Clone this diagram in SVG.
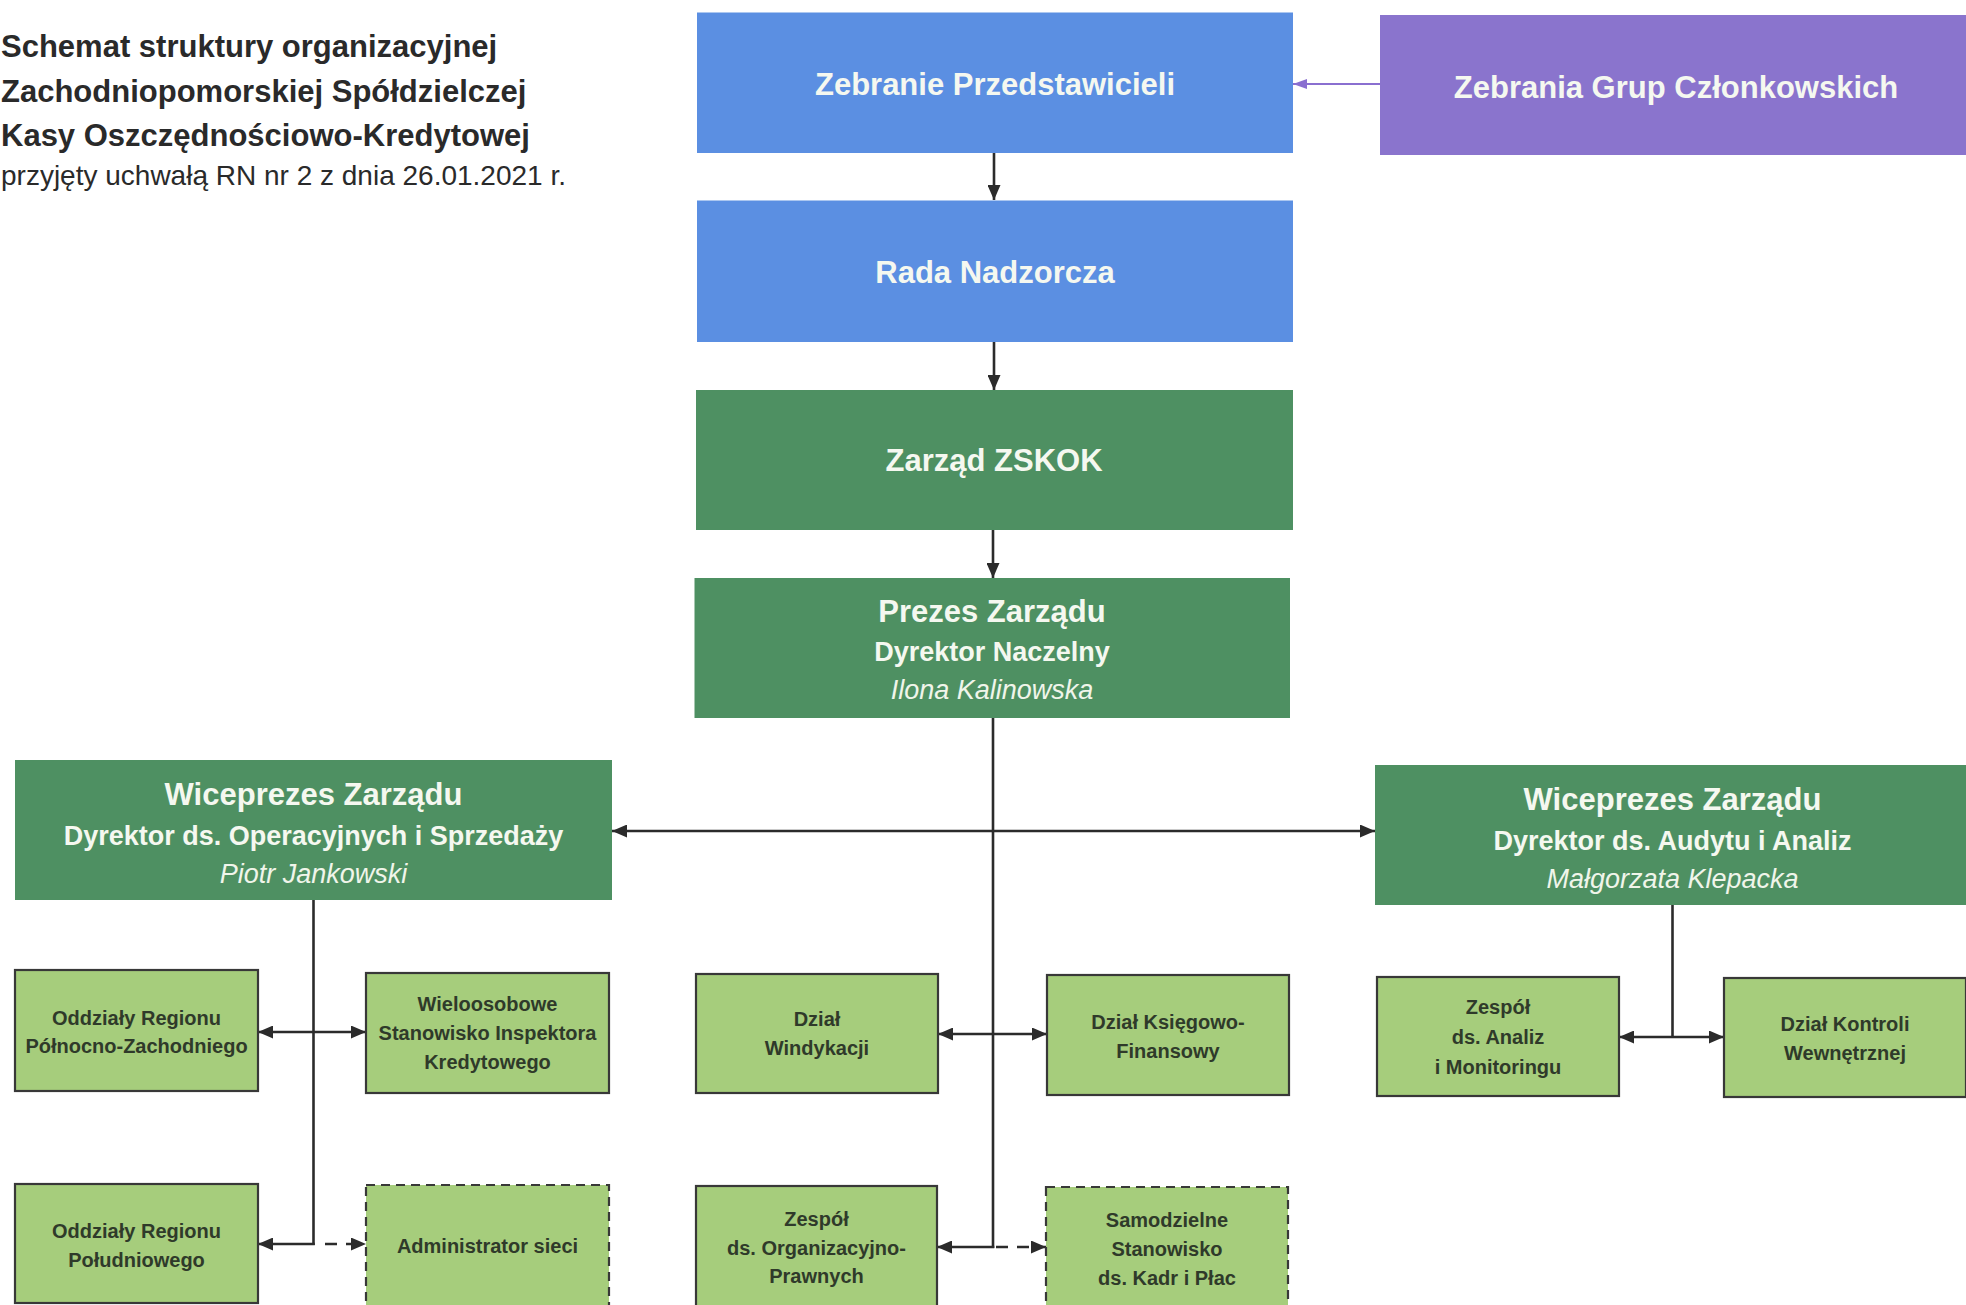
<svg xmlns="http://www.w3.org/2000/svg" width="1966" height="1305" viewBox="0 0 1966 1305">
<style>
text{font-family:"Liberation Sans",Arial,sans-serif;text-anchor:middle}
.title{font-weight:bold;font-size:31px;fill:#2a2a2a;text-anchor:start}
.sub{font-size:28px;fill:#2a2a2a;text-anchor:start}
.blue{fill:#5b8fe2}
.purple{fill:#8a74cd}
.dg{fill:#4e9062}
.lg{fill:#a6cd7c;stroke:#383838;stroke-width:2.2}
.dash{stroke-dasharray:9 6}
.h1{font-weight:bold;font-size:31px;fill:#f5f8f0}
.h2{font-weight:bold;font-size:27px;fill:#f5f8f0}
.h3{font-style:italic;font-size:27px;fill:#f0f5ea}
.s{font-weight:bold;font-size:20px;fill:#2f3a2a}
.c{fill:none;stroke:#2b2b2b;stroke-width:2.6}
.cd{stroke-dasharray:12 9}
</style>
<defs>
<marker id="ah" markerUnits="userSpaceOnUse" markerWidth="15" markerHeight="13" refX="15" refY="6.5" orient="auto-start-reverse"><path d="M0,0 L15,6.5 L0,13 z" fill="#2b2b2b"/></marker>
<marker id="ahp" markerUnits="userSpaceOnUse" markerWidth="14" markerHeight="12" refX="14" refY="6" orient="auto-start-reverse"><path d="M0,1 L14,6 L0,11 z" fill="#8a6fd0"/></marker>
</defs>
<rect width="1966" height="1305" fill="#ffffff"/>

<g id="title">
<text class="title" x="1" y="57">Schemat struktury organizacyjnej</text>
<text class="title" x="1" y="102">Zachodniopomorskiej Spółdzielczej</text>
<text class="title" x="1" y="146">Kasy Oszczędnościowo-Kredytowej</text>
<text class="sub" x="1" y="185">przyjęty uchwałą RN nr 2 z dnia 26.01.2021 r.</text>
</g>

<g id="connectors">
<line class="c" x1="1380" y1="84" x2="1293" y2="84" style="stroke:#8a6fd0;stroke-width:2.2" marker-end="url(#ahp)"/>
<line class="c" x1="994" y1="153" x2="994" y2="200" marker-end="url(#ah)"/>
<line class="c" x1="994" y1="342" x2="994" y2="390" marker-end="url(#ah)"/>
<line class="c" x1="993" y1="530" x2="993" y2="578" marker-end="url(#ah)"/>
<line class="c" x1="993" y1="718" x2="993" y2="1248"/>
<line class="c" x1="612" y1="831" x2="1375" y2="831" marker-start="url(#ah)" marker-end="url(#ah)"/>
<line class="c" x1="313.5" y1="900" x2="313.5" y2="1245"/>
<line class="c" x1="258" y1="1032" x2="366" y2="1032" marker-start="url(#ah)" marker-end="url(#ah)"/>
<line class="c" x1="314.8" y1="1244" x2="258" y2="1244" marker-end="url(#ah)"/>
<line class="c cd" x1="325" y1="1244" x2="366" y2="1244" marker-end="url(#ah)"/>
<line class="c" x1="938" y1="1034" x2="1047" y2="1034" marker-start="url(#ah)" marker-end="url(#ah)"/>
<line class="c" x1="994.3" y1="1247" x2="937" y2="1247" marker-end="url(#ah)"/>
<line class="c cd" x1="996" y1="1247" x2="1046" y2="1247" marker-end="url(#ah)"/>
<line class="c" x1="1672.5" y1="905" x2="1672.5" y2="1037"/>
<line class="c" x1="1619" y1="1037" x2="1724" y2="1037" marker-start="url(#ah)" marker-end="url(#ah)"/>
</g>

<g id="zebranie-przedstawicieli">
<rect class="blue" x="697" y="12.5" width="596" height="140.5"/>
<text class="h1" x="995" y="95">Zebranie Przedstawicieli</text>
</g>
<g id="zebrania-grup">
<rect class="purple" x="1380" y="15" width="586" height="140"/>
<text class="h1" x="1676" y="97.5">Zebrania Grup Członkowskich</text>
</g>
<g id="rada-nadzorcza">
<rect class="blue" x="697" y="200.5" width="596" height="141.5"/>
<text class="h1" x="995" y="283">Rada Nadzorcza</text>
</g>
<g id="zarzad-zskok">
<rect class="dg" x="696" y="390" width="597" height="140"/>
<text class="h1" x="994" y="471">Zarząd ZSKOK</text>
</g>
<g id="prezes">
<rect class="dg" x="694.5" y="578" width="595.5" height="140"/>
<text class="h1" x="992" y="622">Prezes Zarządu</text>
<text class="h2" x="992" y="661">Dyrektor Naczelny</text>
<text class="h3" x="992" y="699">Ilona Kalinowska</text>
</g>
<g id="wiceprezes-lewy">
<rect class="dg" x="15" y="760" width="597" height="140"/>
<text class="h1" x="313.5" y="805">Wiceprezes Zarządu</text>
<text class="h2" x="313.5" y="845">Dyrektor ds. Operacyjnych i Sprzedaży</text>
<text class="h3" x="313.5" y="883">Piotr Jankowski</text>
</g>
<g id="wiceprezes-prawy">
<rect class="dg" x="1375" y="765" width="591" height="140"/>
<text class="h1" x="1672.5" y="810">Wiceprezes Zarządu</text>
<text class="h2" x="1672.5" y="850">Dyrektor ds. Audytu i Analiz</text>
<text class="h3" x="1672.5" y="888">Małgorzata Klepacka</text>
</g>

<g id="oddzialy-pz">
<rect class="lg" x="15" y="970" width="243" height="121"/>
<text class="s" x="136.5" y="1025">Oddziały Regionu</text>
<text class="s" x="136.5" y="1053">Północno-Zachodniego</text>
</g>
<g id="wieloosobowe">
<rect class="lg" x="366" y="973" width="243" height="120"/>
<text class="s" x="487.5" y="1011">Wieloosobowe</text>
<text class="s" x="487.5" y="1040">Stanowisko Inspektora</text>
<text class="s" x="487.5" y="1069">Kredytowego</text>
</g>
<g id="windykacja">
<rect class="lg" x="696" y="974" width="242" height="119"/>
<text class="s" x="817" y="1026">Dział</text>
<text class="s" x="817" y="1055">Windykacji</text>
</g>
<g id="ksiegowo">
<rect class="lg" x="1047" y="975" width="242" height="120"/>
<text class="s" x="1168" y="1029">Dział Księgowo-</text>
<text class="s" x="1168" y="1058">Finansowy</text>
</g>
<g id="analizy">
<rect class="lg" x="1377" y="977" width="242" height="119"/>
<text class="s" x="1498" y="1014">Zespół</text>
<text class="s" x="1498" y="1044">ds. Analiz</text>
<text class="s" x="1498" y="1074">i Monitoringu</text>
</g>
<g id="kontrola">
<rect class="lg" x="1724" y="978" width="242" height="119"/>
<text class="s" x="1845" y="1031">Dział Kontroli</text>
<text class="s" x="1845" y="1060">Wewnętrznej</text>
</g>
<g id="oddzialy-pd">
<rect class="lg" x="15" y="1184" width="243" height="119"/>
<text class="s" x="136.5" y="1238">Oddziały Regionu</text>
<text class="s" x="136.5" y="1267">Południowego</text>
</g>
<g id="administrator">
<rect class="lg dash" x="366" y="1185" width="243" height="130"/>
<text class="s" x="487.5" y="1253">Administrator sieci</text>
</g>
<g id="organizacyjno-prawny">
<rect class="lg" x="696" y="1186" width="241" height="130"/>
<text class="s" x="816.5" y="1226">Zespół</text>
<text class="s" x="816.5" y="1255">ds. Organizacyjno-</text>
<text class="s" x="816.5" y="1283">Prawnych</text>
</g>
<g id="kadry">
<rect class="lg dash" x="1046" y="1187" width="242" height="130"/>
<text class="s" x="1167" y="1227">Samodzielne</text>
<text class="s" x="1167" y="1256">Stanowisko</text>
<text class="s" x="1167" y="1285">ds. Kadr i Płac</text>
</g>
</svg>
